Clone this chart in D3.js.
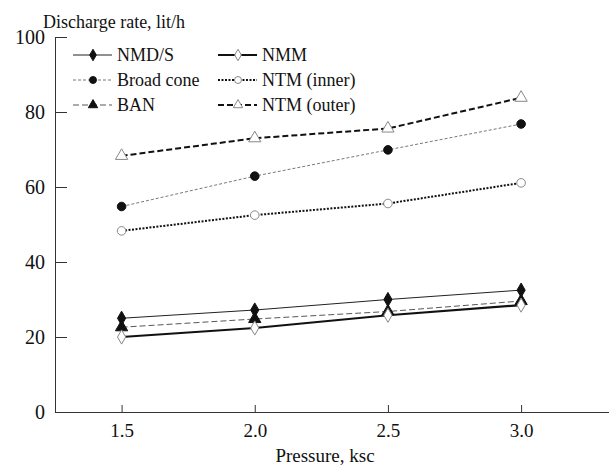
<!DOCTYPE html>
<html>
<head>
<meta charset="utf-8">
<script src="https://cdn.jsdelivr.net/npm/d3@7"></script>
<style>
  body { margin: 0; background: #fff; }
  .axis path, .axis line { stroke: #333; }
</style>
</head>
<body>
<svg id="chart" width="609" height="467"></svg>
<script>
// data
const pressures = [1.5, 2.0, 2.5, 3.0];
const nmds = [25, 27.2, 30, 32.5];
const broadCone = [54.8, 62.9, 69.9, 76.8];
const ban = [22.6, 24.8, 26.8, 29.6];
const nmm = [20, 22.4, 25.8, 28.5];
const ntmInner = [48.3, 52.5, 55.6, 61.1];
const ntmOuter = [68.3, 73, 75.6, 83.8];
const yTicks = [0, 20, 40, 60, 80, 100];
const seriesNames = ["NMD/S", "Broad cone", "BAN", "NMM", "NTM (inner)", "NTM (outer)"];

const FONT = "'Times New Roman', Times, 'Liberation Serif', 'DejaVu Serif', serif";
const svg = d3.select("#chart");
const width = 609, height = 467;

const x = d3.scaleLinear().domain([1.25, 3.33]).range([55, width]);
const y = d3.scaleLinear().domain([0, 100]).range([412, 37]);

// style for each series
const series = [
  { name: seriesNames[0], values: nmds, symbol: d3.symbolDiamond, filled: true, width: 1, dash: null, color: "#222" },
  { name: seriesNames[1], values: broadCone, symbol: d3.symbolCircle, filled: true, width: 0.8, dash: "3,2", color: "#555" },
  { name: seriesNames[2], values: ban, symbol: d3.symbolTriangle, filled: true, width: 0.9, dash: "6,3", color: "#444" },
  { name: seriesNames[3], values: nmm, symbol: d3.symbolDiamond, filled: false, width: 2.2, dash: null, color: "#111" },
  { name: seriesNames[4], values: ntmInner, symbol: d3.symbolCircle, filled: false, width: 2, dash: "2,1.5", color: "#111" },
  { name: seriesNames[5], values: ntmOuter, symbol: d3.symbolTriangle, filled: false, width: 2, dash: "6,3", color: "#111" }
];

// AXES
const yAxis = svg.append("g")
  .attr("class", "axis")
  .attr("transform", `translate(${x.range()[0]},0)`)
  .call(d3.axisLeft(y).tickValues(yTicks).tickSizeInner(-12).tickSizeOuter(0).tickPadding(10));
yAxis.attr("font-family", FONT).attr("font-size", 20);
yAxis.selectAll("text").attr("fill", "#111");

const xAxis = svg.append("g")
  .attr("class", "axis")
  .attr("transform", `translate(0,${y(0)})`)
  .call(d3.axisBottom(x).tickValues(pressures).tickFormat(d3.format(".1f"))
    .tickSizeInner(-7).tickSizeOuter(0).tickPadding(12));
xAxis.attr("font-family", FONT).attr("font-size", 19);
xAxis.selectAll("text").attr("fill", "#111");

// LINES
const line = d3.line()
  .x((d, i) => x(pressures[i]))
  .y(d => y(d));

series.forEach(s => {
  svg.append("path")
    .datum(s.values)
    .attr("d", line)
    .attr("fill", "none")
    .attr("stroke", s.color)
    .attr("stroke-width", s.width)
    .attr("stroke-dasharray", s.dash);

  svg.selectAll(null)
    .data(s.values)
    .enter().append("path")
    .attr("d", d3.symbol().type(s.symbol).size(s.symbol === d3.symbolTriangle ? 65 : 58))
    .attr("transform", (d, i) => `translate(${x(pressures[i])},${y(d)})`)
    .attr("fill", s.filled ? "#111" : "#fff")
    .attr("stroke", s.filled ? "#111" : "#888")
    .attr("stroke-width", 1);
});

// LEGEND
const legend = svg.append("g");
series.forEach((s, i) => {
  const col = Math.floor(i / 3), row = i % 3;
  const lx = 73 + col * 145, ly = 55 + row * 25;
  const gItem = legend.append("g").attr("transform", `translate(${lx},${ly})`);
  gItem.append("line")
    .attr("x1", 0).attr("x2", 39)
    .attr("stroke", s.color)
    .attr("stroke-width", s.width)
    .attr("stroke-dasharray", s.dash);
  gItem.append("path")
    .attr("d", d3.symbol().type(s.symbol).size(38))
    .attr("transform", "translate(20,0)")
    .attr("fill", s.filled ? "#111" : "#fff")
    .attr("stroke", s.filled ? "#111" : "#888");
  gItem.append("text")
    .attr("x", 44)
    .attr("dy", "0.35em")
    .attr("fill", "#111")
    .attr("font-family", FONT)
    .attr("font-size", 18)
    .text(s.name);
});

// LABELS
svg.append("text")
  .attr("x", 43)
  .attr("y", 28)
  .attr("fill", "#111")
  .attr("font-family", FONT)
  .attr("font-size", 18)
  .text("Discharge rate, lit/h");

svg.append("text")
  .attr("x", 325)
  .attr("y", 462)
  .attr("text-anchor", "middle")
  .attr("fill", "#111")
  .attr("font-family", FONT)
  .attr("font-size", 19)
  .text("Pressure, ksc");
</script>
</body>
</html>
